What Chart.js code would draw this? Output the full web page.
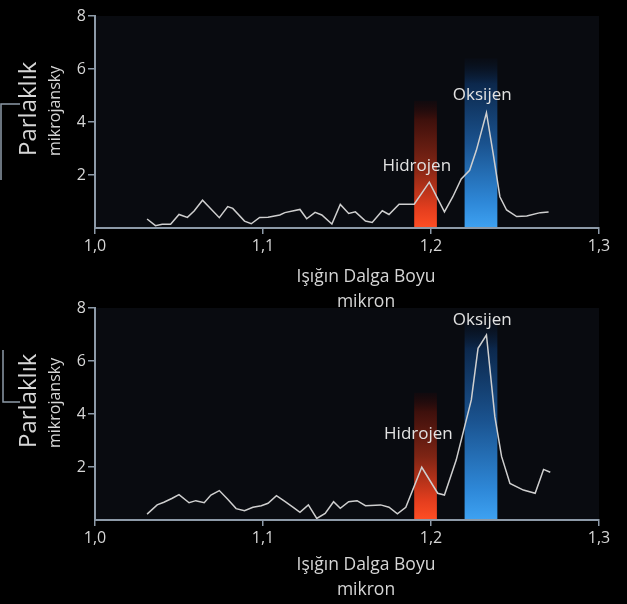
<!DOCTYPE html>
<html>
<head>
<meta charset="utf-8">
<script src="https://cdn.jsdelivr.net/npm/chart.js@4.4.1/dist/chart.umd.min.js"></script>
<style>
    html, body { margin: 0; padding: 0; background: #000; width: 627px; height: 604px; overflow: hidden; }
    .box { position: absolute; left: 0; width: 627px; height: 314px; }
    #top_box { top: 0; }
    #bottom_box { top: 292px; }
</style>
</head>
<body>
<div class="box" id="top_box"><canvas id="top_chart" width="627" height="314"></canvas></div>
<div class="box" id="bottom_box"><canvas id="bottom_chart" width="627" height="314"></canvas></div>
<script>
// axis ticks
var xTicks = [1.0, 1.1, 1.2, 1.3];
var yTicks = [2, 4, 6, 8];
var xTitle = ['Işığın Dalga Boyu', 'mikron'];

// top spectrum
var topWavelength = [1.031, 1.036, 1.040, 1.045, 1.050, 1.055, 1.059, 1.064, 1.074, 1.079, 1.082, 1.089, 1.093, 1.098, 1.103,
    1.110, 1.113, 1.122, 1.126, 1.131, 1.135, 1.141, 1.146, 1.151, 1.155, 1.161, 1.165, 1.171, 1.175, 1.181,
    1.190, 1.199, 1.208, 1.213, 1.218, 1.223, 1.227, 1.233, 1.237, 1.241, 1.245, 1.251, 1.257, 1.265, 1.270];
var topBrightness = [0.34, 0.09, 0.14, 0.14, 0.51, 0.40, 0.64, 1.05, 0.39, 0.81, 0.74, 0.26, 0.16, 0.40, 0.41,
    0.49, 0.58, 0.70, 0.35, 0.59, 0.49, 0.15, 0.89, 0.55, 0.61, 0.26, 0.21, 0.65, 0.51, 0.90,
    0.90, 1.73, 0.61, 1.18, 1.85, 2.18, 2.93, 4.35, 2.81, 1.18, 0.68, 0.43, 0.45, 0.58, 0.60];

// bottom spectrum
var bottomWavelength = [1.031, 1.037, 1.041, 1.046, 1.050, 1.056, 1.060, 1.065, 1.069, 1.074, 1.079, 1.084, 1.089, 1.094, 1.099,
    1.103, 1.108, 1.113, 1.118, 1.122, 1.127, 1.132, 1.137, 1.142, 1.146, 1.151, 1.156, 1.161, 1.170, 1.175,
    1.180, 1.185, 1.1945, 1.204, 1.208, 1.215, 1.224, 1.228, 1.233, 1.238, 1.242, 1.247, 1.255, 1.262, 1.267, 1.271];
var bottomBrightness = [0.22, 0.57, 0.67, 0.82, 0.96, 0.65, 0.73, 0.65, 0.94, 1.11, 0.78, 0.43, 0.35, 0.48, 0.54,
    0.63, 0.92, 0.70, 0.48, 0.29, 0.57, 0.06, 0.25, 0.69, 0.44, 0.69, 0.73, 0.54, 0.57, 0.48,
    0.23, 0.48, 1.99, 1.01, 0.94, 2.26, 4.53, 6.48, 6.98, 3.90, 2.40, 1.38, 1.13, 1.01, 1.91, 1.80];

// emission bands: [from, to] wavelength and height in mikrojansky
var bandNames = ['Hidrojen', 'Oksijen'];
var bandRanges = [[1.190, 1.2035], [1.220, 1.2395]];
var topBandHeights = [4.8, 6.4];
var bottomBandHeights = [4.8, 7.6];
// label anchor (wavelength, brightness)
var topLabelPoints = [[1.1915, 2.35], [1.2305, 5.0]];
var bottomLabelPoints = [[1.1925, 3.25], [1.2305, 7.55]];

var FONT = "'Open Sans', 'DejaVu Sans', sans-serif";
var AXIS_COLOR = '#8d9aa8';
var TEXT_COLOR = '#d6d6d6';
var BAND_COLORS = [
    ['rgb(255,78,36)', 'rgb(228,62,30)', 'rgb(125,36,20)', 'rgb(62,16,12)', 'rgba(40,8,8,0.25)'],
    ['rgb(62,162,242)', 'rgb(46,136,216)', 'rgb(26,82,142)', 'rgb(12,40,76)', 'rgba(8,20,40,0.2)']
];

var spectrumPlugin = {
    id: 'spectrum',
    beforeDraw: function (chart) {
        var a = chart.chartArea, ctx = chart.ctx;
        ctx.save();
        ctx.fillStyle = '#090b10';
        ctx.fillRect(a.left, a.top, a.right - a.left, a.bottom - a.top);
        ctx.restore();
    },
    beforeDatasetsDraw: function (chart, args, opts) {
        var ctx = chart.ctx, xs = chart.scales.x, ys = chart.scales.y;
        ctx.save();
        bandRanges.forEach(function (r, i) {
            var x0 = xs.getPixelForValue(r[0]), x1 = xs.getPixelForValue(r[1]);
            var y0 = ys.getPixelForValue(opts.heights[i]), y1 = ys.getPixelForValue(0);
            var g = ctx.createLinearGradient(0, y1, 0, y0);
            var cols = BAND_COLORS[i];
            g.addColorStop(0, cols[0]);
            g.addColorStop(0.15, cols[1]);
            g.addColorStop(0.5, cols[2]);
            g.addColorStop(0.85, cols[3]);
            g.addColorStop(1, cols[4]);
            ctx.fillStyle = g;
            ctx.fillRect(x0, y0, x1 - x0, y1 - y0);
        });
        ctx.restore();
    },
    afterDraw: function (chart, args, opts) {
        var ctx = chart.ctx, a = chart.chartArea, xs = chart.scales.x, ys = chart.scales.y;
        ctx.save();
        // band labels
        ctx.fillStyle = '#e2e2e2';
        ctx.font = '17px ' + FONT;
        ctx.textAlign = 'center';
        ctx.textBaseline = 'middle';
        opts.labels.forEach(function (p, i) {
            ctx.fillText(bandNames[i], xs.getPixelForValue(p[0]), ys.getPixelForValue(p[1]));
        });
        // x axis title, sits a little right of centre
        ctx.fillStyle = TEXT_COLOR;
        ctx.font = '17.5px ' + FONT;
        var cx = (a.left + a.right) / 2 + 19;
        xTitle.forEach(function (t, i) {
            ctx.fillText(t, cx, a.bottom + opts.titleOffset + i * 25);
        });
        // y axis title
        var base = a.bottom - 72;
        ctx.textAlign = 'left';
        ctx.translate(0, base);
        ctx.rotate(-Math.PI / 2);
        ctx.font = '24px ' + FONT;
        ctx.fillText('Parlaklık', 0, 29);
        ctx.font = '16px ' + FONT;
        ctx.fillText('mikrojansky', 0, 55);
        ctx.restore();
        // bracket
        ctx.save();
        ctx.strokeStyle = AXIS_COLOR;
        ctx.lineWidth = 1.5;
        ctx.beginPath();
        opts.bracket.forEach(function (p, i) {
            if (i === 0) ctx.moveTo(p[0], p[1]); else ctx.lineTo(p[0], p[1]);
        });
        ctx.stroke();
        ctx.restore();
    }
};

function makeChart(id, xs, ys, heights, labels, bracket, titleOffset) {
    var H = 314, areaTop = 16, areaBottom = 228, areaLeft = 95;
    var ctx = document.getElementById(id).getContext('2d');
    return new Chart(ctx, {
        type: 'line',
        data: {
            datasets: [{
                data: xs.map(function (x, i) { return {x: x, y: ys[i]}; }),
                borderColor: '#cfcfcf',
                borderWidth: 1.5,
                pointRadius: 0,
                tension: 0
            }]
        },
        options: {
            responsive: false,
            animation: false,
            layout: {padding: {top: areaTop, right: 28, bottom: 0, left: 0}},
            plugins: {
                legend: {display: false},
                tooltip: {enabled: false},
                spectrum: {heights: heights, labels: labels, bracket: bracket, titleOffset: titleOffset}
            },
            scales: {
                x: {
                    type: 'linear',
                    min: xTicks[0],
                    max: xTicks[xTicks.length - 1],
                    afterFit: function (s) { s.height = H - areaBottom; },
                    afterBuildTicks: function (s) { s.ticks = xTicks.map(function (v) { return {value: v}; }); },
                    border: {color: AXIS_COLOR, width: 2, z: 1},
                    grid: {drawOnChartArea: false, tickLength: 6, color: AXIS_COLOR, lineWidth: 1.5},
                    ticks: {
                        color: TEXT_COLOR, padding: 3, maxRotation: 0,
                        font: {family: FONT, size: 16},
                        callback: function (v) { return v.toFixed(1).replace('.', ','); }
                    }
                },
                y: {
                    min: 0,
                    max: yTicks[yTicks.length - 1],
                    afterFit: function (s) { s.width = areaLeft; },
                    afterBuildTicks: function (s) { s.ticks = yTicks.map(function (v) { return {value: v}; }); },
                    border: {color: AXIS_COLOR, width: 2, z: 1},
                    grid: {drawOnChartArea: false, tickLength: 7, color: AXIS_COLOR, lineWidth: 1.5},
                    ticks: {color: TEXT_COLOR, padding: 2, font: {family: FONT, size: 16}}
                }
            }
        },
        plugins: [spectrumPlugin]
    });
}

makeChart('top_chart', topWavelength, topBrightness, topBandHeights, topLabelPoints,
    [[20, 104], [1, 104], [1, 180]], 49);
makeChart('bottom_chart', bottomWavelength, bottomBrightness, bottomBandHeights, bottomLabelPoints,
    [[3, 58], [3, 110], [20, 110]], 45);
</script>
</body>
</html>
